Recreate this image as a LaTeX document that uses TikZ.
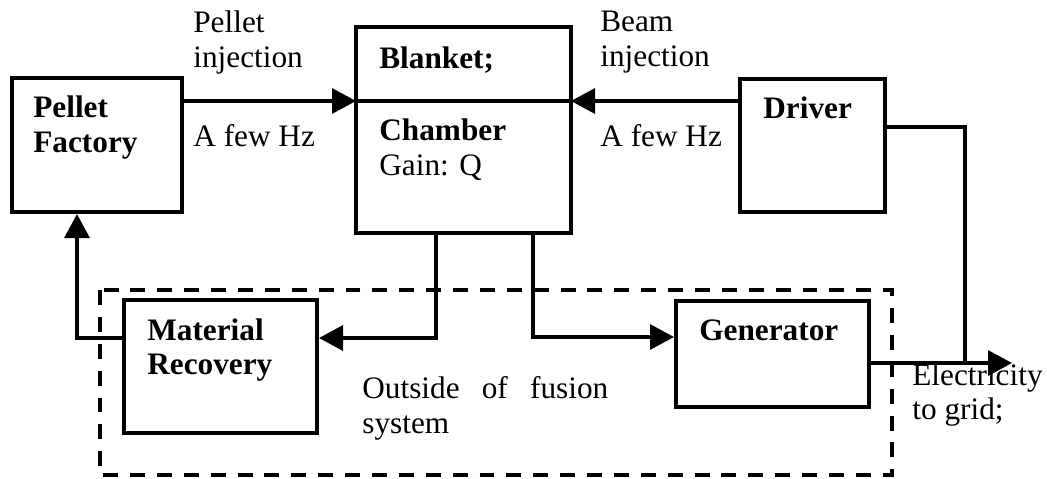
\documentclass[tikz,border=0pt]{standalone}
\usepackage{fontspec}
\setmainfont{Liberation Serif}
\usetikzlibrary{positioning,arrows.meta}

\begin{document}
\begin{tikzpicture}[
    x=0.02cm, y=-0.02cm,
    box/.style={draw, line width=2.3pt, inner sep=0pt},
    txt/.style={font=\fontsize{17.8}{19.9}\selectfont, align=left,
                anchor=west, inner sep=0pt},
    bold/.style={txt, font=\fontsize{17.8}{19.9}\selectfont\bfseries},
    flow/.style={line width=1.9pt, -{Triangle[length=0.48cm, width=0.5cm]}},
    wire/.style={line width=1.9pt},
    frame/.style={line width=2.1pt, dash pattern=on 8.5pt off 6.8pt}
]
\useasboundingbox (0,0) rectangle (1047,478);

% Outside of fusion system (dashed frame)
\draw[frame] (100,290) rectangle (892,475);

% Boxes
\node[box, minimum width=3.4cm,  minimum height=2.68cm] (pf)  at (97,145)    {};
\node[box, minimum width=4.3cm,  minimum height=4.12cm] (ch)  at (463.5,130) {};
\node[box, minimum width=2.9cm,  minimum height=2.66cm] (drv) at (812.5,145.5) {};
\node[box, minimum width=3.86cm, minimum height=2.66cm] (mr)  at (220.5,366.5) {};
\node[box, minimum width=3.86cm, minimum height=2.12cm] (gen) at (772.5,354) {};

% Box texts
\node[bold] (pfTxt)  at (33,127.5) {Pellet\\Factory};
\node[bold] (blkTxt) at (379,60)   {Blanket;};
\node[txt]  (chTxt)  at (379,150)  {{\bfseries Chamber}\\Gain: Q};
\node[bold] (drvTxt) at (763,108)  {Driver};
\node[bold] (mrTxt)  at (147,350)  {Material\\Recovery};
\node[bold] (genTxt) at (699,330)  {Generator};

% Chamber split and injection points
\coordinate (chl) at (356,101);
\coordinate (chr) at (571,101);
\draw[wire] (chl) -- (chr);

% Injection labels
\node[txt] (pelInj) at (193,42.5) {Pellet\\injection};
\node[txt] (pelHz)  at (193,136)  {A few Hz};
\node[txt] (bmInj)  at (600,42.5) {Beam\\injection};
\node[txt] (bmHz)   at (600,136)  {A few Hz};

% Injection arrows
\draw[flow] (pf.east |- chl) -- (chl);
\draw[flow] (drv.west |- chr) -- (chr);

% Chamber outputs
\draw[flow] (ch.south -| 436,0) |- (mr.east |- 0,338);
\draw[flow] (ch.south -| 533,0) |- (gen.west |- 0,337);

% Recovered material back to factory
\draw[flow] (mr.west |- 0,338) -| (pf.south -| 77,0);

% Electricity out
\coordinate (tap)  at (965,363);
\coordinate (grid) at (1012,363);
\draw[wire] (drv.east |- 0,127) -| (tap);
\draw[flow] (gen.east |- grid) -- (grid);
\node[txt] (elecTxt) at (912,395) {Electricity\\to grid;};

% Frame label
\node[txt, text width=4.92cm] (outTxt) at (362,408)
    {Outside\hfill of\hfill fusion\\system};

\end{tikzpicture}
\end{document}
